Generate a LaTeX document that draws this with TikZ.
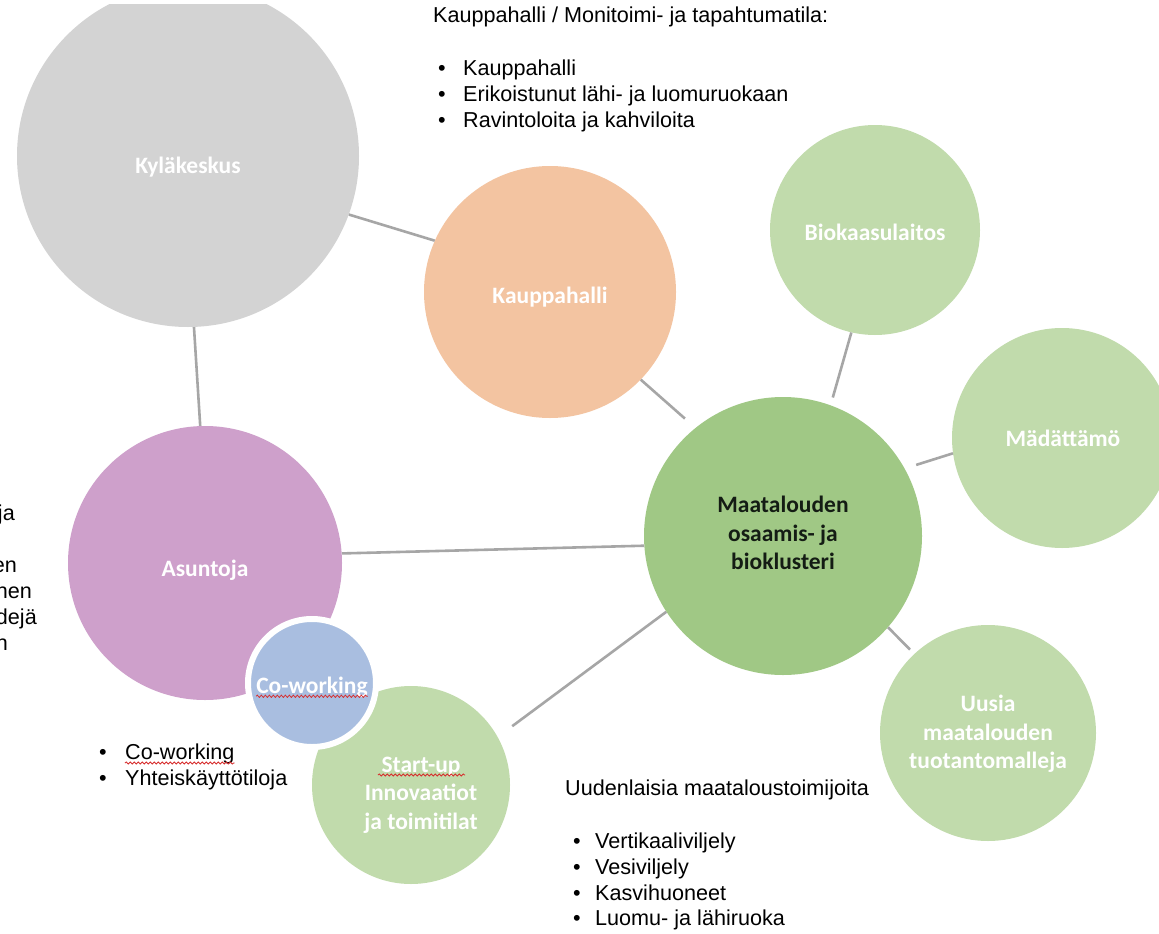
\documentclass[tikz,border=0pt]{standalone}
\usepackage{fontspec}
\setmainfont{Liberation Sans}
\newfontfamily\calibri{Carlito}
\usetikzlibrary{calc,decorations.pathmorphing}
\definecolor{kylgray}{RGB}{211,211,211}
\definecolor{kauporange}{RGB}{243,196,161}
\definecolor{lightgreen}{RGB}{193,219,172}
\definecolor{midgreen}{RGB}{160,200,133}
\definecolor{asunpurple}{RGB}{206,160,203}
\definecolor{cwblue}{RGB}{169,190,224}
\definecolor{linegray}{RGB}{166,166,166}
\definecolor{squig}{RGB}{215,45,45}
\definecolor{darktext}{RGB}{20,28,20}
\begin{document}
\begin{tikzpicture}[x=1pt,y=-1pt,
  bub/.style={circle,inner sep=0pt,minimum size=#1},
  lbl/.style={font=\calibri\bfseries\fontsize{23.5}{28.5}\selectfont,text=white,align=center,inner sep=0pt},
  note/.style={font=\fontsize{21.6}{26}\selectfont,anchor=base west,inner sep=0pt},
  cutnote/.style={font=\fontsize{21.6}{26}\selectfont,anchor=base east,inner sep=0pt},
  conn/.style={draw=linegray,line width=2.6pt},
  spell/.style={draw=squig,line width=0.8pt,decorate,decoration={snake,amplitude=1.1pt,segment length=4pt}}
]
\useasboundingbox (0,0) rectangle (1159,934);
\fill[white] (0,0) rectangle (1159,934);

% circles
\begin{scope}
  \clip (0,5) rectangle (1159,934);
  \node[bub=342pt,fill=kylgray] (kyl) at (188,156) {};
\end{scope}
\node[bub=252pt,fill=kauporange] (kaup) at (550,292) {};
\node[bub=210pt,fill=lightgreen] (bio) at (875,230) {};
\node[bub=220pt,fill=lightgreen] (mad) at (1062,438) {};
\node[bub=278pt,fill=midgreen] (maat) at (783,536) {};
\node[bub=216pt,fill=lightgreen] (uus) at (988,733) {};
\node[bub=274pt,fill=asunpurple] (asun) at (205,563) {};
\node[bub=198pt,fill=lightgreen] (start) at (411,785) {};
\node[bub=128pt,fill=cwblue,draw=white,line width=6pt] (cw) at (312,683) {};

% circle labels
\node[lbl] (kyltxt) at (188,167) {Kyläkeskus};
\node[lbl] (kauptxt) at (550,297) {Kauppahalli};
\node[lbl] (biotxt) at (875,232) {Biokaasulaitos};
\node[lbl] (madtxt) at (1063,438) {Mädättämö};
\node[lbl,text=darktext] (maattxt) at (783,533) {Maatalouden\\osaamis- ja\\bioklusteri};
\node[lbl] (uustxt) at (988,734) {Uusia\\maatalouden\\tuotantomalleja};
\node[lbl] (asuntxt) at (205,570) {Asuntoja};
\node[lbl] (sttxt) at (421,795) {Start-up\\Innovaatiot\\ja toimitilat};
\node[lbl] (cwtxt) at (312,687) {Co-working};

% connectors
\draw[conn] (kyl.-20) -- (kaup.156);
\draw[conn] (kyl.-88) -- (asun.92);
\draw[conn,shorten >=14pt] (kaup.-44) -- (maat.129);
\draw[conn,shorten >=8pt] (bio.-103) -- (maat.70);
\draw[conn,shorten >=12pt] (mad.188) -- (maat.29);
\draw[conn,shorten <=6pt] (uus.133) -- (maat.-41);
\draw[conn] (asun.4) -- (maat.184);
\draw[conn,shorten <=18pt] (start.29) -- (maat.213);

% top note
\node[note] (toptitle) at (433,22.5) {Kauppahalli / Monitoimi- ja tapahtumatila:};
\node[note] (topb1) at (438,75) {•};
\node[note] (topt1) at (463,75) {Kauppahalli};
\node[note] (topb2) at (438,101) {•};
\node[note] (topt2) at (463,101) {Erikoistunut lähi- ja luomuruokaan};
\node[note] (topb3) at (438,127) {•};
\node[note] (topt3) at (463,127) {Ravintoloita ja kahviloita};

% bottom note
\node[note] (bottitle) at (565,795.5) {Uudenlaisia maataloustoimijoita};
\node[note] (botb1) at (573,848) {•};
\node[note] (bott1) at (595,848) {Vertikaaliviljely};
\node[note] (botb2) at (573,874) {•};
\node[note] (bott2) at (595,874) {Vesiviljely};
\node[note] (botb3) at (573,900) {•};
\node[note] (bott3) at (595,900) {Kasvihuoneet};
\node[note] (botb4) at (573,925) {•};
\node[note] (bott4) at (595,925) {Luomu- ja lähiruoka};

% co-working note
\node[note] (cwb1) at (99,759.5) {•};
\node[note] (cwt1) at (125,759.5) {Co-working};
\node[note] (cwb2) at (99,785.5) {•};
\node[note] (cwt2) at (125,785.5) {Yhteiskäyttötiloja};

% cut-off text at left edge
\node[cutnote] (cut1) at (15,520.5) {ja};
\node[cutnote] (cut2) at (17,572.5) {en};
\node[cutnote] (cut3) at (32,598.5) {nen};
\node[cutnote] (cut4) at (37,624.5) {dejä};
\node[cutnote] (cut5) at (8,650.5) {n};

% spelling squiggles
\draw[spell] ($(cwtxt.base west)+(0,3)$) -- ($(cwtxt.base east)+(0,3)$);
\draw[spell] ($(sttxt.center)+(-43,-20)$) -- ($(sttxt.center)+(44,-20)$);
\draw[spell] ($(cwt1.base west)+(0,3.5)$) -- ($(cwt1.base east)+(0,3.5)$);
\end{tikzpicture}
\end{document}
